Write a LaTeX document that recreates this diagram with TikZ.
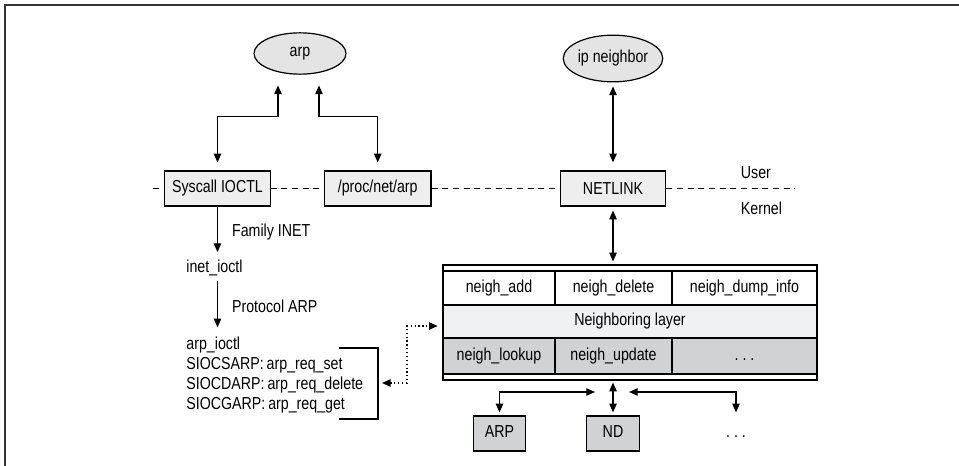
\documentclass[tikz,border=0pt]{standalone}
\usepackage{fontspec}
\setmainfont{Liberation Sans}[FakeStretch=0.82]
\usetikzlibrary{positioning,arrows.meta,shapes.geometric}
\definecolor{ellgray}{RGB}{228,228,228}
\definecolor{boxgray}{RGB}{238,238,238}
\definecolor{layergray}{RGB}{240,241,242}
\definecolor{cellgray}{RGB}{209,210,212}

\begin{document}
\begin{tikzpicture}[x=0.75pt,y=-0.75pt,
  font=\fontsize{13}{15}\selectfont,
  >={Triangle[length=6.5pt,width=5.5pt]},
  prog/.style={ellipse,draw,fill=ellgray,line width=0.9pt,minimum width=69pt,minimum height=31pt,inner sep=0pt},
  iface/.style={rectangle,draw,fill=boxgray,line width=0.9pt,minimum width=79pt,minimum height=26.25pt,inner sep=0pt},
  cell/.style={rectangle,draw,line width=0.9pt,minimum height=25.5pt,inner sep=0pt,text height=9pt,text depth=2.5pt},
  proto/.style={rectangle,draw,fill=cellgray,line width=0.9pt,minimum width=39.5pt,minimum height=26.25pt,inner sep=0pt,text height=9pt,text depth=2.5pt},
  txt/.style={inner sep=2pt},
  link/.style={<->,line width=0.9pt},
  flow/.style={->,line width=0.9pt},
  ulline/.style={line width=0.9pt,dash pattern=on 4.5pt off 3.5pt}]
\useasboundingbox (0,0) rectangle (959,466);
\draw[line width=1.1pt,black!80] (5,466) -- (5,5) -- (959,5);

% user space
\node[prog] (arp) at (300,53.5) {arp};
\node[prog,minimum width=70.5pt,minimum height=35pt] (ipn) at (613,58.5) {ip neighbor};
\node[iface] (sysc) at (217.5,188.5) {Syscall IOCTL};
\node[iface,minimum width=80pt,right=39.75pt of sysc] (proc) {/proc/net/arp};
\node[iface] (nlink) at (613,188.5) {NETLINK};
\node[txt,anchor=west] (usr) at (738,173) {User};
\node[txt,anchor=west] (kern) at (738,208) {Kernel};

\draw[ulline] (153,188.5) -- (sysc.west);
\draw[ulline] (sysc.east) -- (proc.west);
\draw[ulline] (proc.east) -- (nlink.west);
\draw[ulline] (nlink.east) -- (795,188.5);

\draw[link,shorten <=6pt,shorten >=8pt] (sysc.north) -- ++(0,-54) -| ([xshift=-16.5pt]arp.south);
\draw[link,shorten <=6pt,shorten >=8pt] (proc.north) -- ++(0,-54) -| ([xshift=14.25pt]arp.south);
\draw[link,shorten <=6pt,shorten >=3pt] (nlink.north) -- (ipn.south);

% ioctl path
\node[txt,anchor=west] (inet) at (183.5,268) {inet\_ioctl};
\node[txt,anchor=north west,align=left] (ioctl) at (183.5,334)
  {arp\_ioctl\\SIOCSARP:\,arp\_req\_set\\SIOCDARP:\,arp\_req\_delete\\SIOCGARP:\,arp\_req\_get};
\draw[flow,shorten >=3.75pt] (sysc.south) -- (sysc.south |- inet.north)
  node[txt,midway,right=8.5pt] {Family INET};
\draw[flow,shorten <=1.5pt,shorten >=5pt] (sysc.south |- inet.south) -- (sysc.south |- ioctl.north)
  node[txt,midway,right=8.5pt] {Protocol ARP};
\draw[line width=0.9pt] (339,348) -- (378,348) -- (378,419) -- (339,419);
\coordinate (brk) at (378,383);

% neighboring layer
\node[draw,line width=0.9pt,minimum width=280.5pt,minimum height=86.25pt,inner sep=0pt] (tbl) at (630,322.5) {};
\node[cell,fill=white,minimum width=84pt] (nadd) at (499,288) {neigh\_add};
\node[cell,fill=white,minimum width=87.75pt] (ndel) at (613.5,288) {neigh\_delete};
\node[cell,fill=white,minimum width=108.75pt] (ndump) at (744.5,288) {neigh\_dump\_info};
\node[cell,fill=layergray,minimum width=280.5pt,minimum height=24.75pt] (layer) at (630,321.5) {Neighboring layer};
\node[cell,fill=cellgray,minimum width=84pt,minimum height=27pt] (nlook) at (499,356) {neigh\_lookup};
\node[cell,fill=cellgray,minimum width=87.75pt,minimum height=27pt] (nupd) at (613.5,356) {neigh\_update};
\node[cell,fill=cellgray,minimum width=108.75pt,minimum height=27pt] (ndots) at (744.5,356) {.\ .\ .};

\draw[link,shorten <=3pt,shorten >=2.25pt] (nlink.south) -- (nlink.south |- tbl.north);
\draw[link,dotted,shorten <=3pt,shorten >=3.5pt] (brk) -- ++(29,0) |- ([yshift=-3.4pt]layer.west);

% protocols
\node[proto] (arpb) at (499.5,433.5) {ARP};
\node[proto] (nd) at (613,433.5) {ND};
\node[proto,draw=none,fill=none] (more) at (736,433.5) {.\ .\ .};
\coordinate (hub) at (613,392);
\draw[link,shorten <=1.5pt,shorten >=2.25pt] (nd.north |- tbl.south) -- (nd.north);
\draw[link,shorten <=2.25pt] (arpb.north) |- ([xshift=-13.5pt]hub);
\draw[link,shorten <=2.25pt] (more.north) |- ([xshift=12pt]hub);
\end{tikzpicture}
\end{document}
